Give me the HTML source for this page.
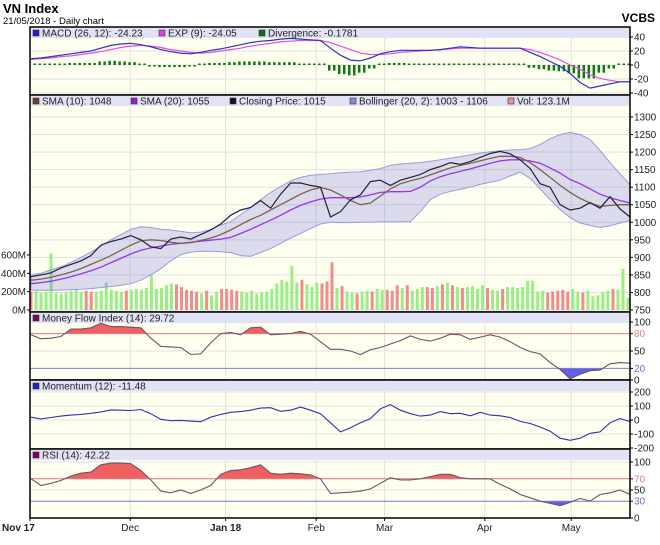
<!DOCTYPE html>
<html><head><meta charset="utf-8"><style>
body{margin:0;background:#fff;}
svg{display:block;font-family:"Liberation Sans",Arial,sans-serif;}
</style></head><body>
<svg id="c" width="660" height="545" xmlns="http://www.w3.org/2000/svg">
<text x="3" y="13" font-size="13" font-weight="bold">VN Index</text>
<text x="3" y="24" font-size="9.5">21/05/2018 - Daily chart</text>
<text x="655" y="22" font-size="12" font-weight="bold" text-anchor="end">VCBS</text>
</svg>
<script>
const monthLabels=["Nov 17","Dec","Jan 18","Feb","Mar","Apr","May"];
const monthPos=[0,0.167,0.326,0.477,0.591,0.758,0.902];
const closePrice=[845,850,856,870,880,890,905,935,945,952,962,950,930,925,952,958,952,965,978,995,1020,1035,1042,1062,1040,1080,1112,1112,1105,1100,1015,1030,1064,1078,1116,1120,1105,1120,1128,1136,1150,1159,1170,1165,1173,1185,1196,1202,1195,1178,1153,1110,1100,1050,1035,1040,1056,1040,1073,1038,1015];
const sma10=[835,838,843,850,858,868,880,892,905,920,935,947,950,948,943,940,942,948,955,965,978,993,1008,1020,1035,1050,1065,1080,1092,1099,1092,1078,1062,1050,1055,1075,1095,1110,1118,1125,1135,1145,1155,1162,1168,1175,1182,1188,1188,1185,1170,1150,1128,1105,1085,1068,1055,1045,1048,1050,1050];
const sma20=[825,828,832,838,845,853,862,872,885,897,910,920,927,932,937,940,943,946,949,952,957,968,980,993,1006,1020,1035,1048,1058,1066,1070,1070,1070,1072,1078,1085,1087,1087,1088,1100,1118,1130,1138,1145,1152,1160,1168,1175,1178,1178,1175,1168,1155,1140,1122,1110,1095,1080,1070,1062,1055];
const bollUpper=[850,855,865,873,885,900,915,932,950,965,980,987,985,980,978,974,970,972,980,992,1002,1022,1042,1064,1085,1102,1118,1128,1134,1136,1138,1141,1143,1144,1148,1153,1162,1166,1168,1170,1174,1178,1183,1187,1192,1197,1201,1204,1206,1207,1210,1222,1238,1250,1256,1250,1236,1205,1170,1138,1107];
const bollLower=[807,806,806,807,808,809,811,814,817,820,825,835,850,868,890,908,915,917,917,916,914,905,903,914,925,940,955,968,982,995,1000,999,999,1000,1000,1001,1001,1001,1002,1030,1065,1080,1088,1094,1100,1108,1114,1120,1132,1143,1125,1095,1065,1036,1013,998,991,985,990,998,1005];
const volume=[200,210,190,200,620,190,180,200,210,230,200,210,200,200,210,300,220,210,200,210,220,230,220,240,380,230,240,270,290,280,250,220,210,200,180,210,160,200,230,230,220,210,200,190,210,180,190,200,230,290,330,310,480,300,330,280,250,300,290,310,520,240,260,200,190,180,200,210,200,230,220,220,210,270,240,270,210,230,250,250,240,260,280,300,270,250,240,250,260,230,270,240,220,210,230,250,250,240,250,320,320,200,210,190,200,210,220,200,230,200,190,210,150,160,200,210,230,220,450,130];
const volUp="011111111110011111101111111110000010110000111111111111011100010110110110001011100101010111101101111111100000110111110111100";
const macdLine=[9,10,12,14,16,18,20,24,28,30,31,29,26,22,19,17,16,18,21,23,26,29,32,34,35,37,38,37,36,35,24,14,7,6,10,16,19,21,21,21,21,22,24,26,25,24,24,24,24,24,18,12,5,-2,-12,-25,-33,-30,-27,-24,-24];
const expLine=[8,9,10,12,13,15,17,19,22,25,27,28,27,25,22,20,18,17,18,20,22,24,27,29,31,33,34,35,35,35,32,27,22,17,15,15,16,18,19,20,21,22,23,24,24,24,24,24,24,24,22,18,13,7,0,-6,-14,-19,-22,-24,-24];
const mfi=[78,71,72,75,88,88,90,98,92,92,91,90,72,58,57,56,44,45,64,80,82,78,90,91,78,79,80,84,79,66,53,53,50,44,52,56,62,68,76,70,67,72,79,78,70,74,78,74,66,56,49,45,30,18,2,10,16,17,28,30,29];
const momentum=[20,8,18,28,35,40,48,58,72,70,68,75,45,5,-5,-3,-8,-12,20,40,55,60,70,85,88,62,70,92,70,45,-20,-85,-55,-20,10,80,110,70,45,28,35,60,45,48,30,55,35,30,18,-10,-25,-50,-80,-130,-145,-130,-95,-85,-20,10,-11];
const rsi=[70,58,62,67,75,80,82,95,98,98,97,85,68,48,45,50,44,50,58,78,85,86,90,95,80,78,80,79,77,70,44,45,46,48,52,62,72,68,68,70,74,78,78,72,70,70,70,60,52,42,36,30,26,22,28,35,30,42,45,50,42];
const priceTicks=[750,800,850,900,950,1000,1050,1100,1150,1200,1250,1300];
const volTicks=[0,200,400,600];
const macdTicks=[-40,-20,0,20,40];
const mfiTicks=[0,20,50,80,100];
const momTicks=[-200,-100,0,100,200];
const rsiTicks=[0,30,50,70,100];

const NS="http://www.w3.org/2000/svg";
const svg=document.getElementById('c');
const X0=30,X1=630;
function mk(tag,attrs,parent){const e=document.createElementNS(NS,tag);for(const k in attrs)e.setAttribute(k,attrs[k]);(parent||svg).appendChild(e);return e;}
function xg(i,n){return 31+i*(599/(n-1));}
function lin(d0,d1,r0,r1){return v=>r0+(v-d0)*(r1-r0)/(d1-d0);}
function pathOf(arr,ys){return arr.map((v,i)=>(i?'L':'M')+xg(i,arr.length).toFixed(1)+' '+ys(v).toFixed(1)).join(' ');}

function panel(name,top,bot,legend){
  const g=mk('g',{});
  
  
  mk('rect',{x:X0,y:top,width:X1-X0,height:bot-top,fill:'#fffff0'},g);
  mk('rect',{x:X0,y:top,width:X1-X0,height:11,fill:'#e2e2f6'},g);
  let lx=X0+3;
  legend.forEach(l=>{
    const sq=mk('rect',{x:lx,y:top+3,width:6,height:6,fill:l[1],stroke:'#333','stroke-width':0.6},g);
    
    
    const t=mk('text',{x:lx+9,y:top+9.5,'font-size':10,fill:'#222'},g);
    t.textContent=l[0];
    
    
    lx+=l[2];
  });
  monthPos.forEach((p,i)=>{if(i>0){const x=X0+p*(X1-X0);mk('line',{x1:x,x2:x,y1:top+11,y2:bot,stroke:'#e0e0e0','stroke-width':1},g);}});
  return g;
}
function rightTicks(g,ticks,ys,top,bot,col){
  ticks.forEach(t=>{const y=ys(t);
    if(y>top+11&&y<bot-1)mk('line',{x1:X0,x2:X1,y1:y,y2:y,stroke:'#e0e0e0','stroke-width':1},g);
    mk('line',{x1:X1,x2:X1+3,y1:y,y2:y,stroke:'#000'},g);
    const tx=mk('text',{x:X1+4,y:y+3.5,'font-size':10,fill:col?col(t):'#222'},g);tx.textContent=t;
    
    
  });
}
function border(top,bot){mk('rect',{x:X0,y:top,width:X1-X0,height:bot-top,fill:'none',stroke:'#000','stroke-width':1.5});}

// MACD
{const top=27,bot=95;const ys=lin(0,40,65,37);
const g=panel('macd',top,bot,[["MACD (26, 12): -24.23",'#2020cc',126],["EXP (9): -24.05",'#e040e0',100],["Divergence: -0.1781",'#107010',120]]);
rightTicks(g,macdTicks,ys,top,bot);
macdLine.forEach((v,i)=>{const d=v-expLine[i];const y0=ys(0),y1=ys(d);let h=Math.abs(y1-y0);if(h<1.5)h=1.5;
  for(let k=0;k<2;k++){const x=xg(i,macdLine.length)+k*5-2.5;if(x<X0+1||x>X1-2)continue;
  const b=mk('rect',{x:x,y:d>=0?y0-h:y0,width:2.5,height:h,fill:'#117711'},g);
  
  }
});
const p1=mk('path',{d:pathOf(expLine,ys),fill:'none',stroke:'#e050e0','stroke-width':1.2},g);

const p2=mk('path',{d:pathOf(macdLine,ys),fill:'none',stroke:'#3030c0','stroke-width':1.2},g);

border(top,bot);}

// Price
{const top=95,bot=312;const ys=lin(750,1300,310,117);const yv=lin(0,600,310,255);
const g=panel('price',top,bot,[["SMA (10): 1048",'#704020',98],["SMA (20): 1055",'#8a20e0',99],["Closing Price: 1015",'#101030',120],["Bollinger (20, 2): 1003 - 1106",'#8888dd',158],["Vol: 123.1M",'#f09090',80]]);
rightTicks(g,priceTicks,ys,top,bot);
volTicks.forEach(t=>{const y=yv(t);mk('line',{x1:X0-3,x2:X0,y1:y,y2:y,stroke:'#000'},g);
  const tx=mk('text',{x:X0-4,y:y+3.5,'font-size':10,'text-anchor':'end',fill:'#222'},g);tx.textContent=t+'M';
  });
volume.forEach((v,i)=>{const x=31+i*(597/(volume.length-1));const y=yv(v);
  const b=mk('rect',{x:x-1.5,y:y,width:3,height:310-y,fill:volUp[i]==='1'?'#99ee88':'#f08c8c'},g);
  });
let d=pathOf(bollUpper,ys);
for(let i=bollLower.length-1;i>=0;i--)d+=' L'+xg(i,bollLower.length).toFixed(1)+' '+ys(bollLower[i]).toFixed(1);
const bb=mk('path',{d:d+'Z',fill:'rgba(110,110,220,0.25)',stroke:'#9a9ae0','stroke-width':1},g);

const s20=mk('path',{d:pathOf(sma20,ys),fill:'none',stroke:'#9933ee','stroke-width':1.3},g);

const s10=mk('path',{d:pathOf(sma10,ys),fill:'none',stroke:'#806050','stroke-width':1.3},g);

const cl=mk('path',{d:pathOf(closePrice,ys),fill:'none',stroke:'#202040','stroke-width':1.2},g);

border(top,bot);}

function oscPanel(name,top,bot,legend,arr,ticks,ys,hi,lo){
  const g=panel(name,top,bot,legend);
  rightTicks(g,ticks,ys,top,bot,hi!==undefined?(t=>t===hi?'#e08080':t===lo?'#7070cc':'#222'):null);
  const line=pathOf(arr,ys);
  if(hi!==undefined){
    const n=arr.length;const xa=xg(0,n),xb=xg(n-1,n);
    const cid=name+'clip';
    const defs=mk('defs',{},g);
    const c1=mk('clipPath',{id:cid+'h'},defs);mk('rect',{x:X0,y:top,width:X1-X0,height:ys(hi)-top},c1);
    const c2=mk('clipPath',{id:cid+'l'},defs);mk('rect',{x:X0,y:ys(lo),width:X1-X0,height:bot-ys(lo)},c2);
    const fh=mk('path',{d:line+` L${xb} ${ys(hi)} L${xa} ${ys(hi)}Z`,fill:'#f06060','clip-path':`url(#${cid}h)`},g);
    
    const fl=mk('path',{d:line+` L${xb} ${ys(lo)} L${xa} ${ys(lo)}Z`,fill:'#6060e8','clip-path':`url(#${cid}l)`},g);
    
    mk('line',{x1:X0,x2:X1,y1:ys(hi),y2:ys(hi),stroke:'#e08080','stroke-width':1},g);
    mk('line',{x1:X0,x2:X1,y1:ys(lo),y2:ys(lo),stroke:'#8080d0','stroke-width':1},g);
  }
  const p=mk('path',{d:line,fill:'none',stroke:hi!==undefined?'#705070':'#3030b0','stroke-width':1.1},g);
  
  border(top,bot);
}
oscPanel('mfi',312,380,[["Money Flow Index (14): 29.72",'#800060',150]],mfi,mfiTicks,lin(0,100,380,322),80,20);
oscPanel('momentum',380,449,[["Momentum (12): -11.48",'#2020cc',150]],momentum,momTicks,lin(-200,200,448,392));
oscPanel('rsi',449,518,[["RSI (14): 42.22",'#800060',150]],rsi,rsiTicks,lin(0,100,518,462),70,30);

monthLabels.forEach((m,i)=>{const x=X0+monthPos[i]*(X1-X0);
  mk('line',{x1:x,x2:x,y1:518,y2:521,stroke:'#000'});
  const t=mk('text',{x:i===0?2:x,y:531,'font-size':10,'text-anchor':i===0?'start':'middle','font-weight':(i===0||i===2)?'bold':'normal',fill:'#222'});
  t.textContent=m;
  
  
});
</script>
</body></html>
